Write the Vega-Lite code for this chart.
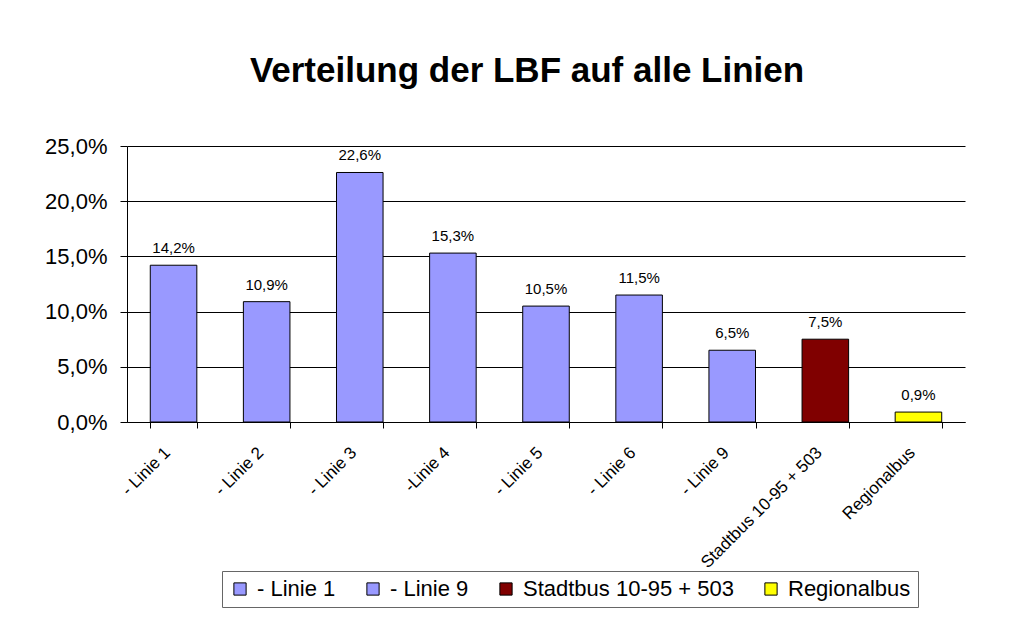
{
  "$schema": "https://vega.github.io/schema/vega-lite/v6.json",
  "width": 838,
  "height": 276,
  "autosize": "none",
  "padding": {"left": 127, "top": 146, "right": 68, "bottom": 202},
  "background": "white",
  "title": {
    "text": "Verteilung der LBF auf alle Linien",
    "font": "Liberation Sans",
    "fontSize": 35,
    "fontWeight": "bold",
    "color": "black",
    "anchor": "middle",
    "baseline": "alphabetic",
    "dx": -19,
    "offset": 18
  },
  "data": {
    "values": [
      {"linie": "- Linie 1", "anteil": 0.142, "gruppe": "- Linie 1"},
      {"linie": "- Linie 2", "anteil": 0.109, "gruppe": "- Linie 1"},
      {"linie": "- Linie 3", "anteil": 0.226, "gruppe": "- Linie 1"},
      {"linie": "-Linie 4", "anteil": 0.153, "gruppe": "- Linie 1"},
      {"linie": "- Linie 5", "anteil": 0.105, "gruppe": "- Linie 1"},
      {"linie": "- Linie 6", "anteil": 0.115, "gruppe": "- Linie 1"},
      {"linie": "- Linie 9", "anteil": 0.065, "gruppe": "- Linie 9"},
      {"linie": "Stadtbus 10-95 + 503", "anteil": 0.075, "gruppe": "Stadtbus 10-95 + 503"},
      {"linie": "Regionalbus", "anteil": 0.009, "gruppe": "Regionalbus"}
    ]
  },
  "encoding": {
    "x": {
      "field": "linie",
      "type": "nominal",
      "sort": null,
      "scale": {"paddingInner": 0.5, "paddingOuter": 0.25},
      "axis": {
        "title": null,
        "labelAngle": -45,
        "labelFontSize": 17,
        "labelFont": "Liberation Sans",
        "labelColor": "black",
        "labelPadding": 16,
        "labelOffset": -12,
        "labelLimit": 0,
        "tickBand": "extent",
        "tickColor": "black",
        "tickSize": 6,
        "domainColor": "black",
        "grid": false
      }
    },
    "y": {
      "field": "anteil",
      "type": "quantitative",
      "scale": {"domain": [0, 0.25], "nice": false},
      "axis": {
        "title": null,
        "format": ".1%",
        "values": [0, 0.05, 0.1, 0.15, 0.2, 0.25],
        "labelFontSize": 22,
        "labelFont": "Liberation Sans",
        "labelColor": "black",
        "labelPadding": 13,
        "tickColor": "black",
        "tickSize": 7,
        "domainColor": "black",
        "grid": true,
        "gridColor": "black",
        "gridOpacity": 1,
        "gridWidth": 1
      }
    }
  },
  "layer": [
    {
      "mark": {"type": "bar", "stroke": "black", "strokeWidth": 1},
      "encoding": {
        "color": {
          "field": "gruppe",
          "type": "nominal",
          "scale": {
            "domain": ["- Linie 1", "- Linie 9", "Stadtbus 10-95 + 503", "Regionalbus"],
            "range": ["#9999FF", "#9999FF", "#800000", "#FFFF00"]
          },
          "legend": {
            "title": null,
            "orient": "none",
            "direction": "horizontal",
            "columns": 4,
            "legendX": 95,
            "legendY": 425,
            "strokeColor": "#666666",
            "padding": 7,
            "symbolType": "square",
            "symbolSize": 150,
            "symbolStrokeColor": "black",
            "symbolStrokeWidth": 1,
            "symbolOpacity": 1,
            "labelFontSize": 22,
            "labelFont": "Liberation Sans",
            "labelColor": "black",
            "labelOffset": 6,
            "labelLimit": 0,
            "columnPadding": 26
          }
        }
      }
    },
    {
      "mark": {"type": "text", "dy": -12, "baseline": "alphabetic", "fontSize": 15, "font": "Liberation Sans", "color": "black"},
      "encoding": {
        "text": {"field": "anteil", "type": "quantitative", "format": ".1%"}
      }
    }
  ],
  "config": {
    "view": {"stroke": null},
    "locale": {
      "number": {"decimal": ",", "thousands": ".", "grouping": [3], "currency": ["", " €"]}
    }
  }
}
